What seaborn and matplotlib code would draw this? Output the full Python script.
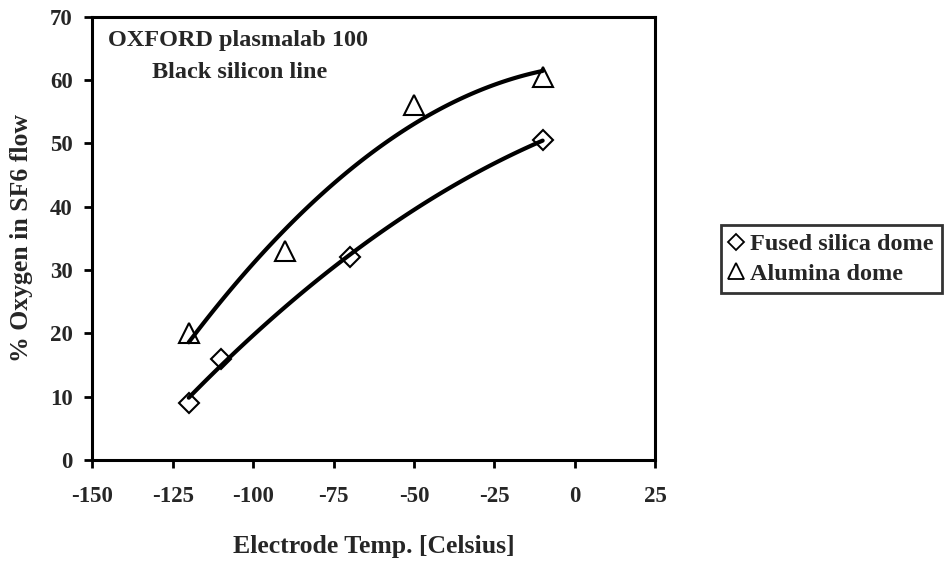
import matplotlib
matplotlib.use("Agg")
import matplotlib.pyplot as plt
from matplotlib.lines import Line2D
import seaborn as sns
import pandas as pd

# Data
fused_temp = [-120, -110, -70, -10]
fused_o2 = [9, 16, 32, 50.5]
alumina_temp = [-120, -90, -50, -10]
alumina_o2 = [20, 33, 56, 60.5]

series_names = ["Fused silica dome", "Alumina dome"]
x_ticks = [-150, -125, -100, -75, -50, -25, 0, 25]
y_ticks = [0, 10, 20, 30, 40, 50, 60, 70]

df = pd.DataFrame({
    "temp": fused_temp + alumina_temp,
    "o2": fused_o2 + alumina_o2,
    "series": [series_names[0]] * len(fused_temp) + [series_names[1]] * len(alumina_temp),
})

sns.set_theme(style="white")
plt.rcParams["font.family"] = ["Liberation Serif", "DejaVu Serif"]
plt.rcParams["font.weight"] = "bold"

fig = plt.figure(figsize=(9.51, 5.77), dpi=100)
ax = fig.add_axes([0.097, 0.203, 0.592, 0.768])

# Trend lines (2nd-order polynomial fits)
for name in series_names:
    sub = df[df["series"] == name]
    sns.regplot(data=sub, x="temp", y="o2", order=2, ci=None, scatter=False,
                ax=ax, color="black", line_kws={"linewidth": 3.0, "solid_capstyle": "round"})

markers = {series_names[0]: "D", series_names[1]: "^"}
sizes = {series_names[0]: 10, series_names[1]: 14}
for name in series_names:
    sub = df[df["series"] == name]
    ax.plot(sub["temp"], sub["o2"], linestyle="none", marker=markers[name],
            markersize=sizes[name], markerfacecolor="none", markeredgecolor="black",
            markeredgewidth=1.5, zorder=5)

ax.set_xlim(-150, 25)
ax.set_ylim(0, 70)
ax.set_xticks(x_ticks)
ax.set_yticks(y_ticks)
ax.set_xticklabels([str(t) for t in x_ticks], fontsize=16.5, fontweight="bold")
ax.set_yticklabels([str(t) for t in y_ticks], fontsize=16.5, fontweight="bold")
ax.set_xlabel("Electrode Temp. [Celsius]", fontsize=18.5, fontweight="bold", labelpad=20)
ax.set_ylabel("% Oxygen in SF6 flow", fontsize=18.5, fontweight="bold", labelpad=12)

for side in ["left", "bottom", "top", "right"]:
    ax.spines[side].set_visible(True)
    ax.spines[side].set_color("black")
    ax.spines[side].set_linewidth(2.2)
ax.tick_params(axis="both", which="both", direction="out", length=6, width=2,
               color="black", left=True, bottom=True, top=False, right=False)
ax.tick_params(axis="x", pad=13)
ax.tick_params(axis="y", pad=8)

ax.text(-145, 66.2, "OXFORD plasmalab 100", fontsize=17.5, fontweight="bold",
        ha="left", va="center")
ax.text(-131.5, 61.2, "Black silicon line", fontsize=17.5, fontweight="bold",
        ha="left", va="center")

handles = [
    Line2D([], [], linestyle="none", marker="D", markersize=8.5, markerfacecolor="none",
           markeredgecolor="black", markeredgewidth=1.3),
    Line2D([], [], linestyle="none", marker="^", markersize=11.5, markerfacecolor="none",
           markeredgecolor="black", markeredgewidth=1.3),
]
leg = fig.legend(handles, series_names, loc="center left", bbox_to_anchor=(0.745, 0.551),
                 frameon=True, fancybox=False, handlelength=0.6,
                 handletextpad=0.25, borderpad=0.35, labelspacing=0.3,
                 prop={"weight": "bold", "size": 17.5})
leg.get_frame().set_edgecolor("black")
leg.get_frame().set_linewidth(2.0)

fig.savefig("out.png", dpi=100)
